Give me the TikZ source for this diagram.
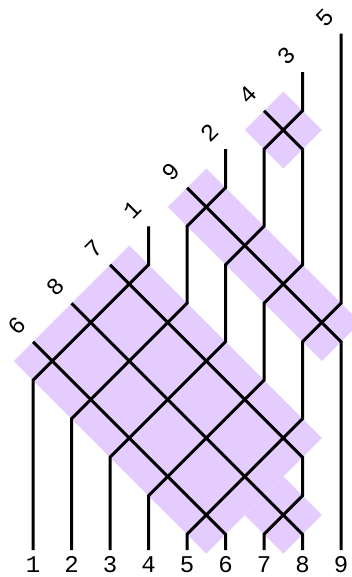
\documentclass[tikz,border=0pt]{standalone}
\usepackage{fontspec}
\newfontfamily\labfont{Liberation Mono}
\definecolor{lav}{RGB}{229,204,255}
\tikzset{
  strand/.style={line width=3pt, line join=miter, black},
  diam/.style={fill=lav},
  toplab/.style={font=\labfont\fontsize{24}{24}\selectfont, inner sep=0pt, rotate=45},
  botlab/.style={font=\labfont\fontsize{24}{24}\selectfont, inner sep=0pt, anchor=base}
}
\begin{document}
\begin{tikzpicture}[x=1pt,y=-1pt]
\useasboundingbox (0,0) rectangle (351,577);
% grid coordinates
\foreach \i in {1,...,9}{
  \coordinate (s\i) at ({33+38.5*(\i-1)},550);
  \foreach \b in {0,...,13}{
    \coordinate (p\i-\b) at ({33+38.5*(\i-1)},{534.25-38.5*\b});
  }
}
% diamonds behind each crossing
\foreach \p/\k in {5/0,7/0,4/1,6/1,3/2,5/2,7/2,2/3,4/3,6/3,1/4,3/4,5/4,2/5,4/5,8/5,3/6,7/6,6/7,5/8,7/10}{
  \fill[diam] ({52.25+38.5*(\p-1)-38.5},{515-38.5*\k}) -- ++(38.5,38.5) -- ++(38.5,-38.5) -- ++(-38.5,-38.5) -- cycle;
}
% strands
\draw[strand] (s1) -- (p1-4) -- (p2-5) -- (p3-6) -- (p4-7) -- (p4-8);
\draw[strand] (s2) -- (p2-3) -- (p3-4) -- (p4-5) -- (p5-6) -- (p5-8) -- (p6-9) -- (p6-10);
\draw[strand] (s3) -- (p3-2) -- (p4-3) -- (p5-4) -- (p6-5) -- (p6-7) -- (p7-8) -- (p7-10) -- (p8-11) -- (p8-12);
\draw[strand] (s4) -- (p4-1) -- (p5-2) -- (p6-3) -- (p7-4) -- (p7-6) -- (p8-7) -- (p8-10) -- (p7-11);
\draw[strand] (s5) -- (p5-0) -- (p6-1) -- (p7-2) -- (p8-3) -- (p8-5) -- (p9-6) -- (p9-13);
\draw[strand] (s6) -- (p6-0) -- (p5-1) -- (p4-2) -- (p3-3) -- (p2-4) -- (p1-5);
\draw[strand] (s7) -- (p7-0) -- (p8-1) -- (p8-2) -- (p7-3) -- (p6-4) -- (p5-5) -- (p4-6) -- (p3-7);
\draw[strand] (s8) -- (p8-0) -- (p7-1) -- (p6-2) -- (p5-3) -- (p4-4) -- (p3-5) -- (p2-6);
\draw[strand] (s9) -- (p9-5) -- (p8-6) -- (p7-7) -- (p6-8) -- (p5-9);
% top labels
\node[toplab] (t1) at ([shift={(-16.3,-16.3)}]p1-5) {6};
\node[toplab] (t2) at ([shift={(-16.3,-16.3)}]p2-6) {8};
\node[toplab] (t3) at ([shift={(-16.3,-16.3)}]p3-7) {7};
\node[toplab] (t4) at ([shift={(-16.3,-16.3)}]p4-8) {1};
\node[toplab] (t5) at ([shift={(-16.3,-16.3)}]p5-9) {9};
\node[toplab] (t6) at ([shift={(-16.3,-16.3)}]p6-10) {2};
\node[toplab] (t7) at ([shift={(-16.3,-16.3)}]p7-11) {4};
\node[toplab] (t8) at ([shift={(-16.3,-16.3)}]p8-12) {3};
\node[toplab] (t9) at ([shift={(-16.3,-16.3)}]p9-13) {5};
% bottom labels
\foreach \i in {1,...,9}{
  \node[botlab] (b\i) at ({33+38.5*(\i-1)},572) {\i};
}
\end{tikzpicture}
\end{document}
